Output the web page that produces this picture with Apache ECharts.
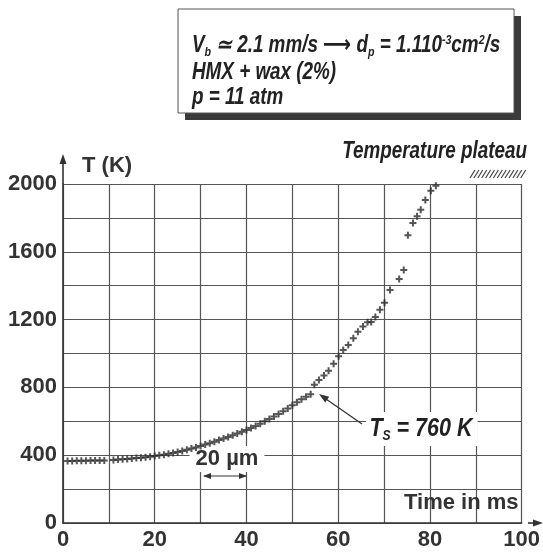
<!DOCTYPE html>
<html><head><meta charset="utf-8">
<script src="https://cdn.jsdelivr.net/npm/echarts@6/dist/echarts.min.js"></script>
<style>html,body{margin:0;padding:0;background:#fff}#c{width:543px;height:552px}</style>
</head><body><div id="c"></div>
<script>
// ---- data ----
const timeMs = [1,2,3,4,5,6,7,8,9,
  11,12,13,14,15,16,17,18,19,20,
  21,22,23,24,25,26,27,28,29,
  30,31,32,33,34,35,36,37,38,39,
  40,41,42,43,44,45,46,47,48,49,
  50,51,52,53,54,
  54.8,55.8,56.9,57.9,59,60.1,61.1,62.2,63.3,64.3,65.4,66.4,67.2,68.1,69.1,70.1,71.3,73.3,74.3,75.2,76.3,77.2,78,79,80.2,81.3];
const tempK = [366,366,367,367,367,368,368,368,369,
  372,374,376,378,380,383,385,388,391,395,
  399,403,408,413,419,425,432,439,446,
  455,463,471,480,489,498,508,518,528,538,
  549,560,572,586,600,614,628,643,659,676,
  694,712,730,745,760,
  815,843,870,898,940,984,1020,1050,1090,1128,1160,1185,1186,1215,1258,1300,1375,1440,1493,1698,1770,1810,1848,1905,1960,1990];
const xTickLabels = [0,20,40,60,80,100];
const yTickLabels = [0,400,800,1200,1600,2000];
const boxLines = ['V_b ≃ 2.1 mm/s ⟶ d_p = 1.110^-3cm^2/s', 'HMX + wax (2%)', 'p = 11 atm'];
const plateauLabel = 'Temperature plateau';
const xName = 'Time in ms';
const yName = 'T (K)';
const scaleLabel = '20 µm';
const tsLabel = '= 760 K';

// ---- layout ----
const G = {left: 63, top: 184, right: 15, bottom: 29};
const W = 543, H = 552;
const gx0 = G.left, gx1 = W - G.right, gy0 = H - G.bottom, gy1 = G.top;
const INK = '#333';
const sans = '"Liberation Sans",Arial,sans-serif';
const NARROW = 0.82;

const chart = echarts.init(document.getElementById('c'), null, {renderer: 'canvas'});
const plus = 'path://M2.5,0h2v2.5h2.5v2h-2.5v2.5h-2v-2.5h-2.5v-2h2.5z';

const hatch = [];
for (let i = 0; i < 14; i++) {
  const x = 470 + i * 3.9;
  hatch.push({type: 'line', z: 5, shape: {x1: x, y1: 178, x2: x + 5, y2: 170}, style: {stroke: '#444', lineWidth: 1.2}});
}

function arrowHead(tx, ty, dx, dy, len, wid) {
  const n = Math.hypot(dx, dy); const ux = dx / n, uy = dy / n;
  const bx = tx - ux * len, by = ty - uy * len;
  return {type: 'polygon', z: 6, shape: {points: [[tx, ty], [bx - uy * wid, by + ux * wid], [bx + uy * wid, by - ux * wid]]}, style: {fill: INK}};
}

const BI = 'italic bold 23px ' + sans;
const richBox = {
  m: {font: BI, fill: '#222'},
  s: {font: 'italic bold 13px ' + sans, fill: '#222', padding: [12, 0, 0, 0]},
  u: {font: 'italic bold 13px ' + sans, fill: '#222', padding: [0, 0, 12, 0]},
  a: {font: 'bold 24px "DejaVu Sans",sans-serif', fill: '#222'}
};
function toRich(s) {
  return s.replace(/_(\w)/g, '}{s|$1}{m|').replace(/\^(-?\w)/g, '}{u|$1}{m|').replace('⟶', '}{a|⟶}{m|');
}

const option = {
  animation: false,
  grid: {left: G.left, top: G.top, right: G.right, bottom: G.bottom, containLabel: false},
  xAxis: {
    type: 'value', min: 0, max: 100, interval: 10,
    axisLine: {show: true, lineStyle: {color: INK, width: 1.6}},
    axisTick: {show: false},
    axisLabel: {margin: 6, fontSize: 22, fontWeight: 'bold', color: '#333', fontFamily: sans,
      formatter: v => xTickLabels.includes(v) ? String(v) : ''},
    splitLine: {show: true, lineStyle: {color: '#555', width: 1.2}}
  },
  yAxis: {
    type: 'value', min: 0, max: 2000, interval: 200,
    axisLine: {show: true, onZero: false, lineStyle: {color: INK, width: 1.6}},
    axisTick: {show: false},
    axisLabel: {margin: 6, fontSize: 22, fontWeight: 'bold', color: '#333', fontFamily: sans,
      formatter: v => yTickLabels.includes(v) ? String(v) : ''},
    splitLine: {show: true, lineStyle: {color: '#555', width: 1.2}}
  },
  series: [{
    type: 'scatter', symbol: plus, symbolSize: 7, z: 3,
    itemStyle: {color: '#2a2a2a'},
    data: timeMs.map((t, i) => [t, tempK[i]])
  }],
  graphic: [
    {type: 'rect', z: 4, shape: {x: 185, y: 16, width: 336, height: 104}, style: {fill: '#3a3a3a'}},
    {type: 'rect', z: 5, shape: {x: 178, y: 9, width: 336, height: 104}, style: {fill: '#fff', stroke: '#555', lineWidth: 1}},
    {type: 'text', z: 6, x: 192, y: 46, scaleX: NARROW, style: {text: '{m|' + toRich(boxLines[0]) + '}', rich: richBox, verticalAlign: 'middle'}},
    {type: 'text', z: 6, x: 192, y: 73, scaleX: NARROW, style: {text: boxLines[1], font: BI, fill: '#222', verticalAlign: 'middle'}},
    {type: 'text', z: 6, x: 192, y: 98, scaleX: NARROW, style: {text: boxLines[2], font: BI, fill: '#222', verticalAlign: 'middle'}},
    {type: 'text', z: 6, x: 527, y: 152, scaleX: NARROW, style: {text: plateauLabel, font: BI, fill: '#222', align: 'right', verticalAlign: 'middle'}},
    ...hatch,
    {type: 'line', z: 6, shape: {x1: gx0, y1: gy1, x2: gx0, y2: 160}, style: {stroke: INK, lineWidth: 1.6}},
    arrowHead(gx0, 154, 0, -1, 10, 3.5),
    {type: 'text', z: 6, x: 82, y: 166, style: {text: yName, font: 'bold 22px ' + sans, fill: '#333', verticalAlign: 'middle'}},
    {type: 'line', z: 6, shape: {x1: gx1, y1: gy0, x2: 538, y2: gy0}, style: {stroke: INK, lineWidth: 1.6}},
    arrowHead(543, gy0, 1, 0, 10, 3.5),
    {type: 'text', z: 6, x: 404, y: 503, style: {text: xName, font: 'bold 22px ' + sans, fill: '#333', verticalAlign: 'middle'}},
    {type: 'text', z: 1, x: 227, y: 459, style: {text: scaleLabel, font: 'bold 22px ' + sans, fill: '#333', align: 'center', verticalAlign: 'middle', backgroundColor: '#fff', padding: [2, 6, 2, 6]}},
    {type: 'line', z: 6, shape: {x1: 204, y1: 476, x2: 246, y2: 476}, style: {stroke: INK, lineWidth: 1.2}},
    arrowHead(203, 476, -1, 0, 8, 3),
    arrowHead(247, 476, 1, 0, 8, 3),
    {type: 'text', z: 1, x: 366, y: 429, scaleX: 0.86, style: {text: '{t|T}{s|S}{t| ' + tsLabel + '}', rich: {
        t: {font: 'italic bold 25px ' + sans, fill: '#222'},
        s: {font: 'italic bold 14px ' + sans, fill: '#222', padding: [14, 0, 0, 0]}},
      verticalAlign: 'middle', backgroundColor: '#fff', padding: [3, 6, 3, 4]}},
    {type: 'line', z: 6, shape: {x1: 362, y1: 424, x2: 326, y2: 399}, style: {stroke: INK, lineWidth: 1.3}},
    arrowHead(319, 394, -43, -30, 10, 3.5)
  ]
};
chart.setOption(option);
</script>
</body></html>
